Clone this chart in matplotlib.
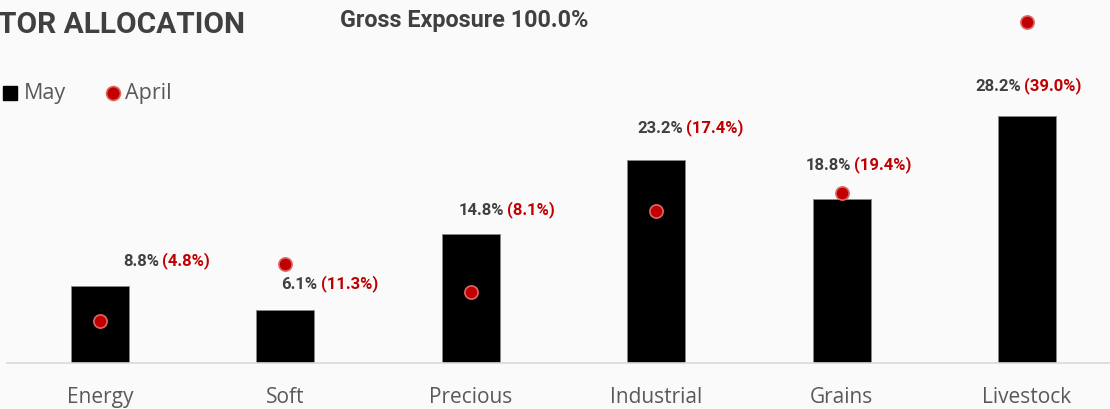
import matplotlib.pyplot as plt

sectors = ["Energy", "Soft", "Precious", "Industrial", "Grains", "Livestock"]
may = [8.8, 6.1, 14.8, 23.2, 18.8, 28.2]
april = [4.8, 11.3, 8.1, 17.4, 19.4, 39.0]
gross_exposure = 100.0

BG = "#fafafa"
RED = "#c00000"
DARK = "#404040"
GRAY = "#595959"

W, H = 1110, 409
fig = plt.figure(figsize=(W / 100, H / 100), dpi=100, facecolor=BG)

# axes placed so the first category sits at ~100 px and baseline at ~363 px
step = 185.4
left = 100 - step / 2
ax = fig.add_axes([left / W, (H - 363) / H, 6 * step / W, 363 / H])
ax.set_facecolor(BG)

x = range(len(sectors))
ax.bar(x, may, width=0.313, color="black", edgecolor="#888888", linewidth=0.6, zorder=2)
ax.plot(x, april, linestyle="none", marker="o", markersize=9.5,
        markerfacecolor=RED, markeredgecolor="#e06666", markeredgewidth=1.2, zorder=3)

ax.set_xlim(-0.5, 5.5)
ax.set_ylim(0, 41.5)
for s in ["top", "right", "left"]:
    ax.spines[s].set_visible(False)
ax.spines["bottom"].set_color("#d9d9d9")
ax.spines["bottom"].set_linewidth(1.2)
ax.set_yticks([])
ax.set_xticks(list(x))
ax.set_xticklabels(sectors, fontsize=15, color=GRAY, family=["Open Sans", "DejaVu Sans"])
ax.tick_params(axis="x", length=0, pad=17)

# value labels: "May% (April%)" in two colours, placed like the original
dx = [23, -4, -12, -19, -36, -52]
dy = [17, 18, 16, 24, 26, 22]
lab_font = dict(fontsize=12, fontweight="bold", family=["Roboto", "DejaVu Sans"])
for i in range(len(sectors)):
    t1 = ax.annotate(f"{may[i]:.1f}%", xy=(i, may[i]), xytext=(dx[i], dy[i]),
                     textcoords="offset pixels", ha="left", va="bottom",
                     color=DARK, **lab_font)
    ax.annotate(f"({april[i]:.1f}%)", xy=(1, 0), xycoords=t1, xytext=(3, 0),
                textcoords="offset pixels", ha="left", va="bottom",
                color=RED, **lab_font)

# header
fig.text(-2 / W, 1 - 33 / H, "TOR ALLOCATION", fontsize=21.5, fontweight="bold",
         color=DARK, family=["Roboto", "DejaVu Sans"], ha="left", va="baseline")
fig.text(340 / W, 1 - 27 / H, f"Gross Exposure {gross_exposure:.1f}%", fontsize=16.8,
         fontweight="bold", color=DARK, family=["Roboto", "DejaVu Sans"],
         ha="left", va="baseline")

# legend
fig.lines.append(plt.Line2D([10 / W], [1 - 93 / H], transform=fig.transFigure,
                            marker="s", markersize=9.5, markerfacecolor="black",
                            markeredgecolor="black", linestyle="none"))
fig.text(24 / W, 1 - 93 / H, "May", fontsize=15.5, color=GRAY,
         family=["Open Sans", "DejaVu Sans"], va="center", ha="left")
fig.lines.append(plt.Line2D([113 / W], [1 - 93 / H], transform=fig.transFigure,
                            marker="o", markersize=10, markerfacecolor=RED,
                            markeredgecolor="#e06666", markeredgewidth=1.2,
                            linestyle="none"))
fig.text(125 / W, 1 - 93 / H, "April", fontsize=15.5, color=GRAY,
         family=["Open Sans", "DejaVu Sans"], va="center", ha="left")

fig.savefig("out.png", dpi=100, facecolor=BG)
